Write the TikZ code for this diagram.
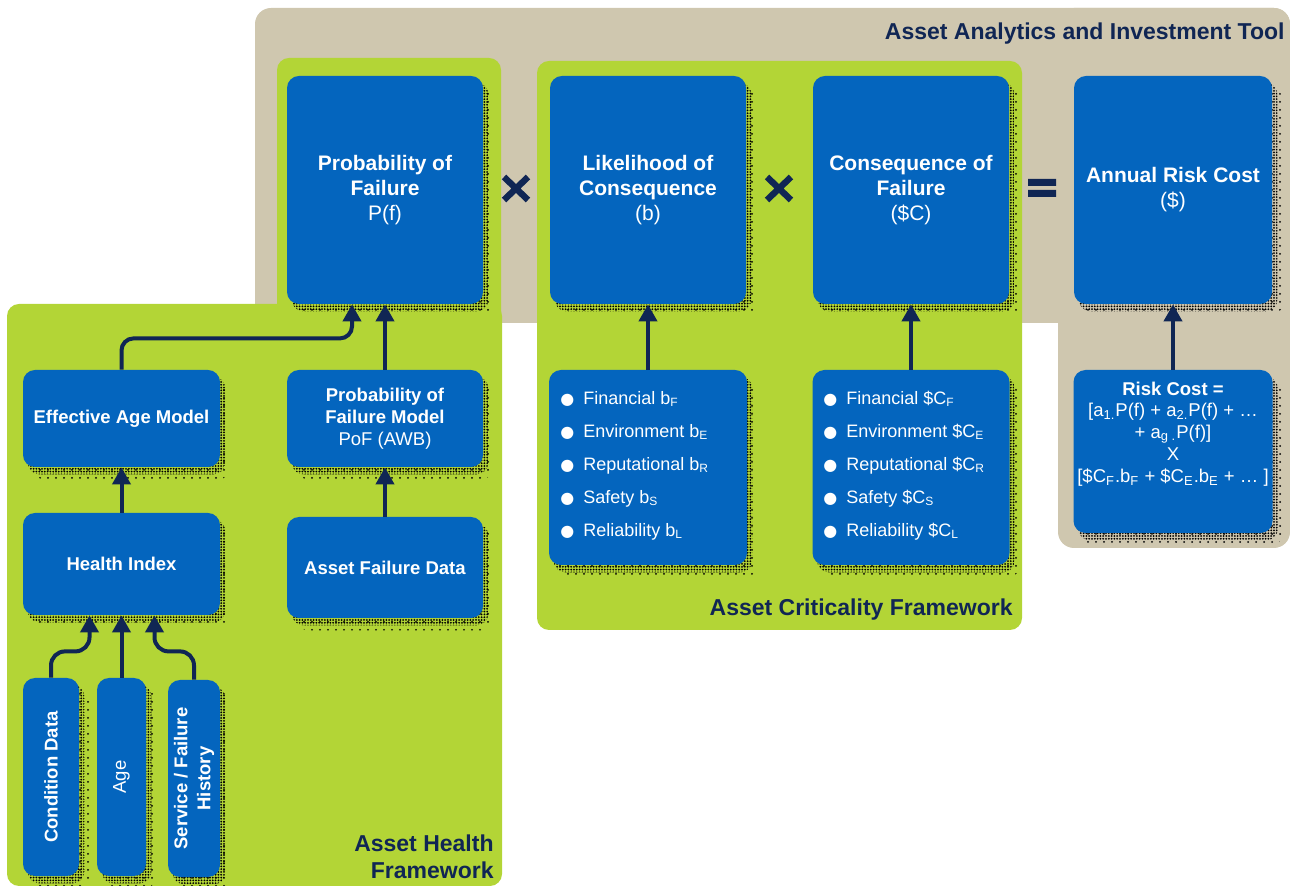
\documentclass[tikz,border=0pt]{standalone}
\usepackage{fontspec}
\setmainfont{Liberation Sans}
\newfontfamily\dejavu{DejaVu Sans}
\usetikzlibrary{arrows.meta,calc,patterns}
\definecolor{beige}{RGB}{207,199,175}
\definecolor{lime}{RGB}{179,213,54}
\definecolor{boxblue}{RGB}{4,101,190}
\definecolor{navy}{RGB}{16,38,84}
\pgfdeclarepatternformonly{halftone}{\pgfqpoint{-0.6pt}{-0.6pt}}{\pgfqpoint{0.6pt}{0.6pt}}{\pgfqpoint{1.4pt}{1.4pt}}{\pgfpathcircle{\pgfqpoint{0pt}{0pt}}{0.5pt}\pgfusepath{fill}}
\pgfdeclarepatternformonly{sparsedots}{\pgfqpoint{-0.6pt}{-0.6pt}}{\pgfqpoint{0.6pt}{0.6pt}}{\pgfqpoint{4pt}{4pt}}{\pgfpathcircle{\pgfqpoint{0pt}{0pt}}{0.5pt}\pgfusepath{fill}}
\pgfdeclarelayer{panel}
\pgfdeclarelayer{shade}
\pgfsetlayers{panel,shade,main}
\newcommand\bul{\makebox[11.5pt][l]{\raisebox{0.3pt}{\dejavu\fontsize{8}{8}\selectfont ●}}}
\tikzset{
  box/.style={fill=boxblue, rounded corners=6pt, inner sep=0pt, text=white, align=center},
  bigfont/.style={font=\fontsize{10.5}{12.5}\selectfont},
  smallfont/.style={font=\fontsize{9.25}{11}\selectfont},
  txt/.style={text=white, inner sep=0pt},
  listtxt/.style={text=white, inner sep=0pt, align=left, font=\fontsize{9}{16.5}\selectfont},
  ttl/.style={text=navy, inner sep=0pt, font=\bfseries\fontsize{11.5}{13.5}\selectfont},
  arr/.style={draw=navy, line width=2pt, -{Triangle[width=9pt,length=8.5pt]}},
  opsign/.style={draw=navy, line width=3.2pt}
}
\begin{document}
\begin{tikzpicture}[x=0.5pt,y=-0.5pt]
\useasboundingbox (0,0) rectangle (1290,886);

% big boxes
\node[box, bigfont, minimum width=98pt, minimum height=114pt] (pof) at (385,190)
  {\textbf{Probability of}\\\textbf{Failure}\\P(f)};
\node[box, bigfont, minimum width=98pt, minimum height=114pt] (lik) at (648,190)
  {\textbf{Likelihood of}\\\textbf{Consequence}\\(b)};
\node[box, bigfont, minimum width=98pt, minimum height=114pt] (con) at (911,190)
  {\textbf{Consequence of}\\\textbf{Failure}\\(\$C)};
\node[box, bigfont, minimum width=99pt, minimum height=114pt] (arc) at (1173,190)
  {\textbf{Annual Risk Cost}\\(\$)};

% health framework boxes
\node[box, smallfont, minimum width=98.5pt, minimum height=48.5pt] (eam) at (121.5,418.5)
  {\textbf{Effective Age Model}};
\node[box, smallfont, minimum width=98.5pt, minimum height=51pt] (hi) at (121.5,564)
  {\textbf{Health Index}};
\node[box, smallfont, minimum width=98pt, minimum height=48.5pt] (pofm) at (385,418.5)
  {\textbf{Probability of}\\\textbf{Failure Model}\\PoF (AWB)};
\node[box, smallfont, minimum width=98pt, minimum height=50.5pt] (afd) at (385,567.5)
  {\textbf{Asset Failure Data}};
\node[box, minimum width=28pt, minimum height=99pt] (cd) at (51,777) {};
\node[box, minimum width=24.5pt, minimum height=99pt] (age) at (121.5,777) {};
\node[box, minimum width=26pt, minimum height=98.5pt] (sfh) at (194,778.5) {};
\node[txt, smallfont, rotate=90] (cdtxt) at (cd.center) {\textbf{Condition Data}};
\node[txt, smallfont, rotate=90] (agetxt) at (age.center) {Age};
\node[txt, smallfont, rotate=90, align=center, font=\fontsize{9.25}{11.5}\selectfont] (sfhtxt) at (sfh.center) {\textbf{Service / Failure}\\\textbf{History}};

% criticality lists
\node[box, minimum width=99pt, minimum height=97.5pt] (likl) at (648,467.5) {};
\node[box, minimum width=98.5pt, minimum height=97.5pt] (conl) at (911,467.5) {};
\node[listtxt, anchor=west] (likltxt) at (560,466) {%
  \bul Financial b\textsubscript{F}\\
  \bul Environment b\textsubscript{E}\\
  \bul Reputational b\textsubscript{R}\\
  \bul Safety b\textsubscript{S}\\
  \bul Reliability b\textsubscript{L}};
\node[listtxt, anchor=west] (conltxt) at (823,466) {%
  \bul Financial \$C\textsubscript{F}\\
  \bul Environment \$C\textsubscript{E}\\
  \bul Reputational \$C\textsubscript{R}\\
  \bul Safety \$C\textsubscript{S}\\
  \bul Reliability \$C\textsubscript{L}};

% risk cost
\node[box, minimum width=99.5pt, minimum height=81.5pt] (rc) at (1173,451.5) {};
\node[txt, align=center, font=\fontsize{9.25}{10.9}\selectfont] (rctxt) at (1173,434) {%
  \textbf{Risk Cost =}\\\relax
  [a\textsubscript{1.}P(f) + a\textsubscript{2.}P(f) + …\\\relax
  + a\textsubscript{g .}P(f)]\\
  X\\\relax
  [\$C\textsubscript{F}.b\textsubscript{F} + \$C\textsubscript{E}.b\textsubscript{E} + … ]};

% titles
\node[ttl, anchor=east] (aatitle) at (1285,34) {Asset Analytics and Investment Tool};
\node[ttl, anchor=east] (actitle) at (1013,610) {Asset Criticality Framework};
\node[ttl, anchor=east, align=right] (ahtitle) at (494,857) {Asset Health\\Framework};

% operators
\draw[opsign] (504,177) -- (528,200) (504,200) -- (528,177);
\draw[opsign] (767,177) -- (791,200) (767,200) -- (791,177);
\fill[navy] (1028,179) rectangle (1056,186) (1028,190) rectangle (1056,197);

% connectors
\draw[arr] (hi.north) -- (eam.south);
\draw[arr] (afd.north) -- (pofm.south);
\draw[arr] (pofm.north) -- (pof.south);
\draw[arr, rounded corners=6pt] (eam.north) |- ($(pof.south)+(-33,34)$) -- ($(pof.south)+(-33,0)$);
\draw[arr, rounded corners=7pt] (cd.north) |- ($(hi.south)+(-32,36)$) -- ($(hi.south)+(-32,0)$);
\draw[arr] (age.north) -- (hi.south);
\draw[arr, rounded corners=7pt] (sfh.north) |- ($(hi.south)+(33,36)$) -- ($(hi.south)+(33,0)$);
\draw[arr] (likl.north) -- (lik.south);
\draw[arr] (conl.north) -- (con.south);
\draw[arr] (rc.north) -- (arc.south);

\begin{pgfonlayer}{shade}
\foreach \n in {pof,lik,con,arc,eam,hi,pofm,afd,cd,age,sfh,likl,conl,rc} {
  \fill[pattern=sparsedots, pattern color=black, rounded corners=6pt]
    ($(\n.south west)+(10,12)$) rectangle ($(\n.north east)+(10,12)$);
  \fill[pattern=halftone, pattern color=black, rounded corners=6pt]
    ($(\n.south west)+(5,7)$) rectangle ($(\n.north east)+(5,7)$);
}
\end{pgfonlayer}

\begin{pgfonlayer}{panel}
\fill[beige, rounded corners=8pt] (255,8) rectangle (1290,323);
\fill[beige, rounded corners=8pt] (1058,8) rectangle (1290,548);
\fill[lime, rounded corners=6pt] (277,58) rectangle (501,330);
\fill[lime, rounded corners=6pt] (7,304) rectangle (502,886);
\fill[lime, rounded corners=6pt] (537,61) rectangle (1022,630);
\end{pgfonlayer}
\end{tikzpicture}
\end{document}
